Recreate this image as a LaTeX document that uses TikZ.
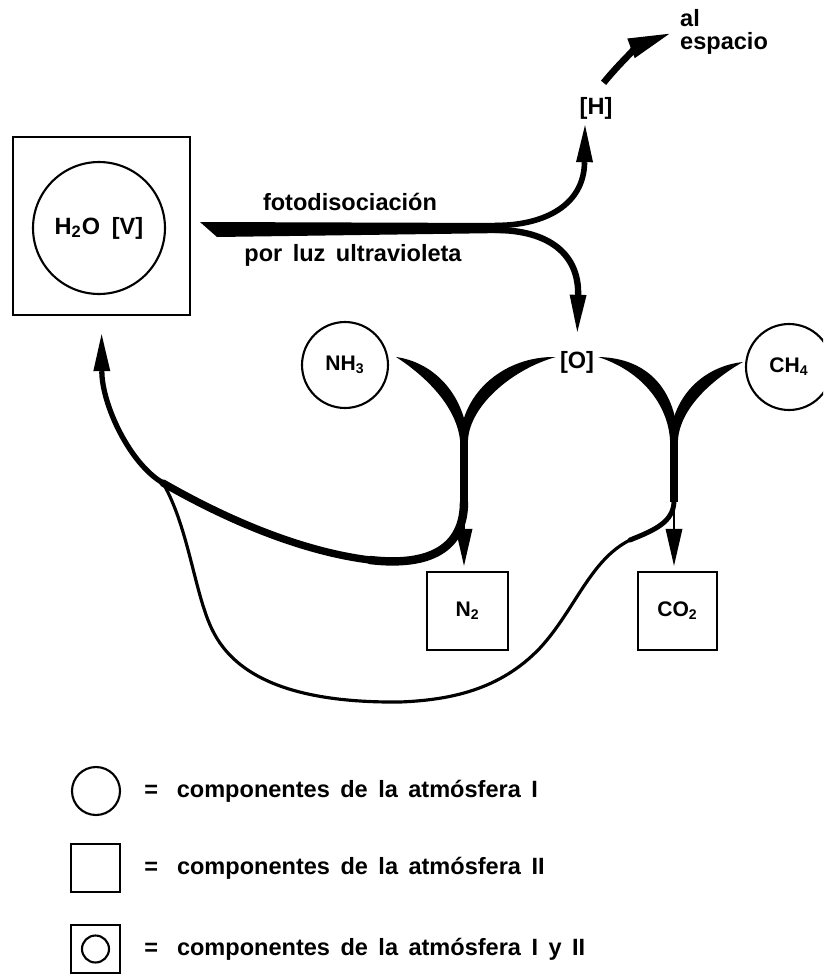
\documentclass[tikz,border=0pt]{standalone}
\usepackage{fontspec}
\setmainfont{Liberation Sans}[WordSpace=1.6]
\usetikzlibrary{positioning,arrows.meta,calc}

% tapered brush stroke: start, control 1, control 2, end, half width, offset
\newcommand\taper[6]{%
  \fill (#1) .. controls (#2) and (#3) .. ($(#4)+(#5,0)$)
    -- ($(#4)-(#5,0)$) .. controls ($(#3)+(#6)$) and ($(#2)+(#6)$) .. (#1) -- cycle;}

\begin{document}
\begin{tikzpicture}[
  x=0.02cm, y=-0.02cm,
  font=\fontsize{13.4}{13.4}\selectfont\bfseries,
  comp/.style={draw, circle, line width=1.2pt, inner sep=0pt},
  box/.style={draw, rectangle, line width=1.4pt, inner sep=0pt},
  small/.style={font=\fontsize{12}{12}\selectfont\bfseries},
  flow/.style={line width=#1, -{Triangle[length=0.74cm, width=0.34cm, line width=0pt]}},
  loopline/.style={line width=#1, line cap=round},
]
  \clip (0,0) rectangle (823,974);

  % ---- components -------------------------------------------------------------
  \node[box, minimum width=3.54cm, minimum height=3.56cm] (sq) at (101.5,226) {};
  \node[comp, minimum size=2.64cm] (water) at (99,228) {H\textsubscript{2}O\hspace{0.5em}[V]};
  \node (foto) at (350,202) {fotodisociación};
  \node (uv) at (353,255) {por luz ultravioleta};
  \node (H) at (596,108) {[H]};
  \node[align=left, anchor=west] (esp) at (674,32) {al\\espacio};
  \node[comp, small, minimum size=1.72cm] (NH3) at (345,365) {NH\textsubscript{3}};
  \node (O) at (577,362) {[O]};
  \node[comp, small, minimum size=1.72cm] (CH4) at (789,367) {CH\textsubscript{4}};
  \node[box, small, minimum width=1.62cm, minimum height=1.56cm] (N2) at (467.5,611) {N\textsubscript{2}};
  \node[box, small, minimum width=1.58cm, minimum height=1.56cm] (CO2) at (677.5,611) {CO\textsubscript{2}};

  % ---- junctions --------------------------------------------------------------
  \coordinate (fork) at (500,228);
  \coordinate (Njoin) at (464,440);
  \coordinate (Nbase) at (464,502);
  \coordinate (Cjoin) at (674,440);
  \coordinate (Cbase) at (674,502);
  \coordinate (loop) at (163,483);
  \coordinate (nhA) at ($(NH3.east)+(7,-8)$);
  \coordinate (olA) at ($(O.west)+(2,-5)$);
  \coordinate (orA) at ($(O.east)+(-2,-5)$);
  \coordinate (chA) at ($(CH4.west)+(-2,-5)$);

  % ---- photodissociation --------------------------------------------------------
  \fill (200,222) -- ($(fork)+(5,-5)$) -- ($(fork)+(5,5)$) -- (217,237) -- cycle;
  \draw[flow=3.2pt] ($(fork)+(-5,-2.5)$) .. controls (545,225.5) and (584,205) .. ([xshift=-0.22cm]H.south);
  \draw[flow=3.6pt, shorten >=0.26cm] ($(fork)+(-5,2)$) .. controls (550,230) and (579,255) .. (O.north);
  \draw[line width=3.8pt, -{Triangle[length=0.82cm, width=0.42cm, line width=0pt]}, shorten >=0.1cm]
    ([xshift=-0.3cm, yshift=0.16cm]H.north east) to[bend left=15] (esp.west);

  % ---- oxidation ----------------------------------------------------------------
  \taper{nhA}{432,362}{464,392}{Njoin}{4}{-8,13}
  \taper{olA}{505,356}{462,392}{Njoin}{-4}{8,13}
  \taper{orA}{650,358}{676,392}{Cjoin}{4}{-8,13}
  \taper{chA}{705,366}{672,395}{Cjoin}{-4}{8,13}
  \fill ($(Njoin)+(-4,-1)$) rectangle ($(Nbase)+(4,0)$);
  \fill ($(Cjoin)+(-4,-1)$) rectangle ($(Cbase)+(4,0)$);
  \draw[flow=1.4pt, shorten >=0.1cm] (Nbase) -- (Nbase |- N2.north);
  \draw[flow=1.4pt, shorten >=0.1cm] (Cbase) -- (Cbase |- CO2.north);

  % ---- water back to the box ----------------------------------------------------
  \draw[loopline=4.8pt] (Nbase) .. controls (464,548) and (430,567) .. (370,560);
  \draw[loopline=4.2pt] (370,560) .. controls (290,550) and (210,510) .. (loop);
  \draw[flow=3pt, shorten >=0.36cm] (loop) .. controls (130,464) and (102,405) .. (sq.south);
  \draw[loopline=2.8pt] (Cbase) .. controls (673,522) and (655,530) .. (630,540);
  \draw[loopline=1.8pt] (630,540) .. controls (590,560) and (575,610) .. (540,648)
    .. controls (500,690) and (450,700) .. (400,702)
    .. controls (300,703) and (240,680) .. (215,635)
    .. controls (195,600) and (190,530) .. (loop);

  % ---- legend -------------------------------------------------------------------
  \node[comp, minimum size=0.96cm] (lg1) at (96,791) {};
  \node[box, minimum width=0.98cm, minimum height=0.96cm] (lg2) at (95.5,868) {};
  \node[box, minimum width=0.98cm, minimum height=0.96cm] (lg3) at (95.5,949) {};
  \node[comp, minimum size=0.54cm] (lg3c) at (lg3) {};
  \foreach \n/\txt in {lg1/componentes de la atmósfera I,
                       lg2/componentes de la atmósfera II,
                       lg3/componentes de la atmósfera I y II} {
    \node[anchor=west] at ($(\n.east)+(17,0)$) {=\hspace{0.8em}\txt};
  }
\end{tikzpicture}
\end{document}
